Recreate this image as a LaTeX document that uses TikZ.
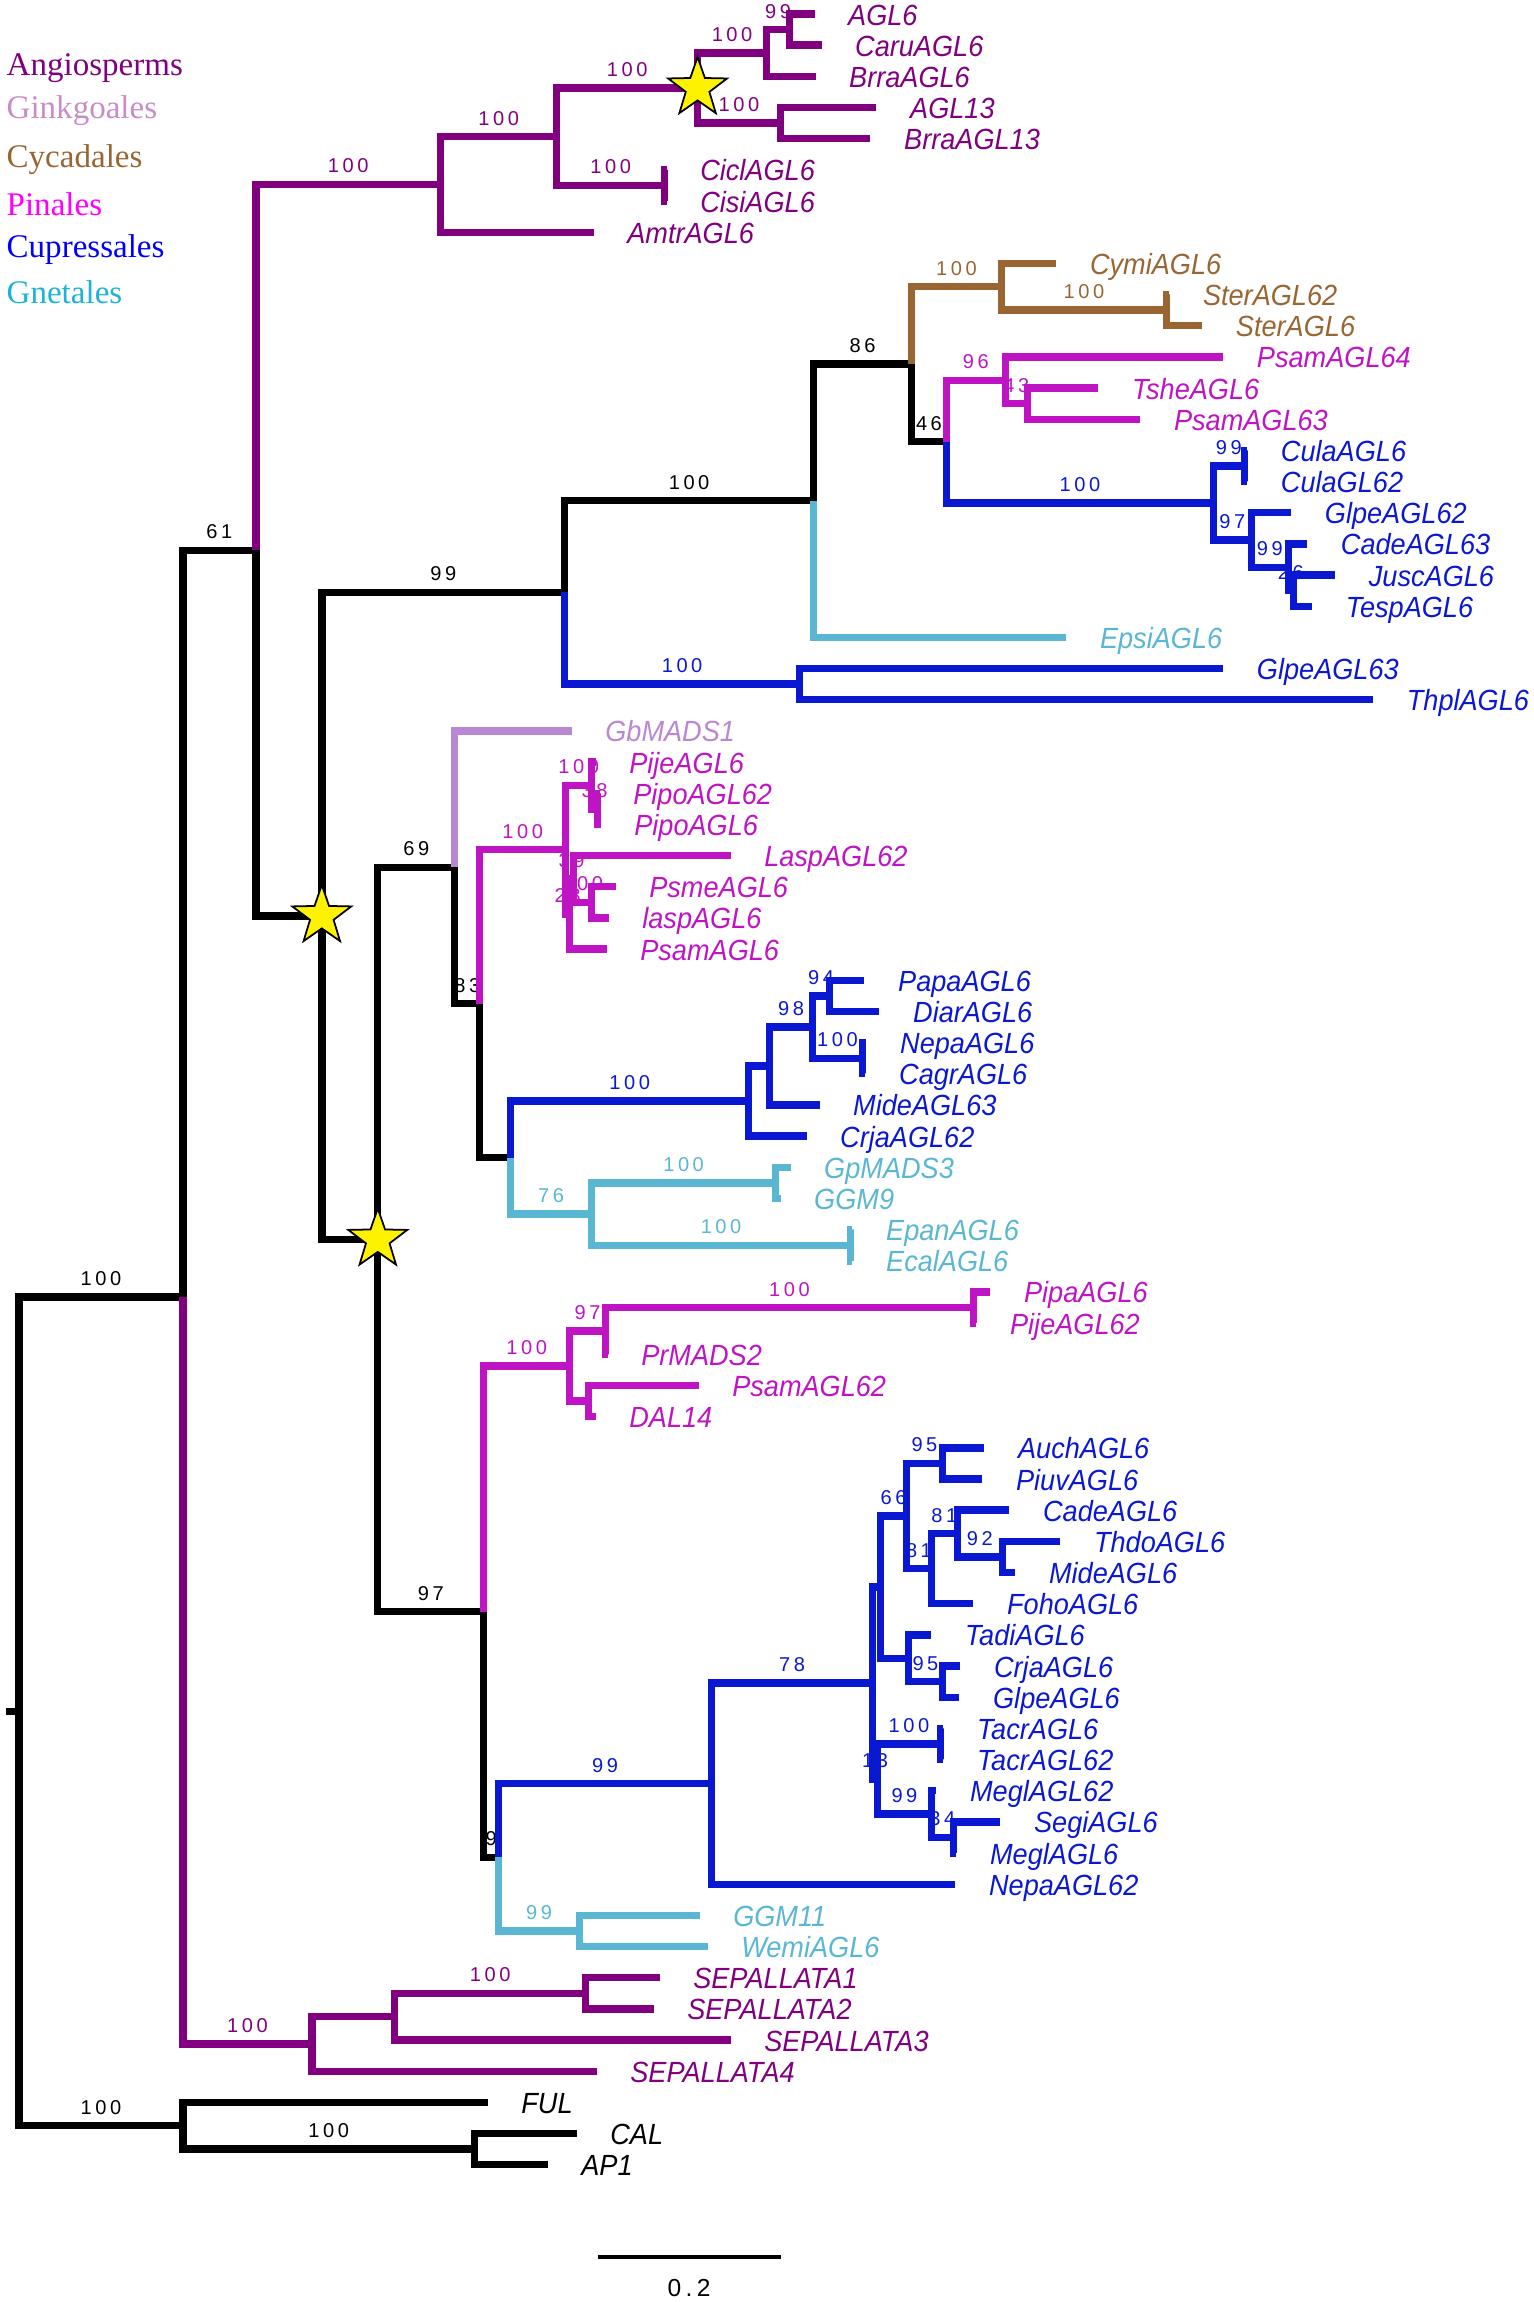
\documentclass[tikz,border=0pt]{standalone}
\usepackage{fontspec}
\setmainfont{Liberation Serif}
\newfontfamily\leaffont[FakeStretch=0.93]{Liberation Sans}
\newfontfamily\bsfont[LetterSpace=18]{Liberation Sans}
\usetikzlibrary{shapes.geometric}
\definecolor{angio}{HTML}{800080}
\definecolor{ginkgo}{HTML}{B987D4}
\definecolor{cycad}{HTML}{996633}
\definecolor{pinal}{HTML}{BE14C4}
\definecolor{cupre}{HTML}{0A18D2}
\definecolor{gnet}{HTML}{5AB7D4}
\definecolor{ginkleg}{HTML}{C98CC8}
\definecolor{pinleg}{HTML}{FF00FF}
\definecolor{cupleg}{HTML}{0000FF}
\definecolor{gnetleg}{HTML}{1DB3D6}
\begin{document}
\begin{tikzpicture}[x=0.01cm,y=-0.3117cm,line width=2.1pt,
  leaf/.style={anchor=base west,inner sep=0,xshift=3mm,yshift=-1.1mm,
    font=\leaffont\itshape\fontsize{8.3}{9}\selectfont},
  bs/.style={pos=.75,anchor=base,inner sep=0,yshift=1.15mm,behind path,
    font=\bsfont\fontsize{5.7}{6}\selectfont},
  lg/.style={anchor=base west,inner sep=0,font=\fontsize{9.4}{11}\selectfont},
  starmark/.style={star,star points=5,star point ratio=2.5,minimum size=6.2mm,
    inner sep=0,fill=yellow,draw=black,line width=.5pt},
  ]
\useasboundingbox (0,0.5508) rectangle (1534,74.404);

\node[lg,angio] (lg1) at (3,2.957) {Angiosperms};
\node[lg,ginkleg] (lg2) at (3,4.337) {Ginkgoales};
\node[lg,cycad] (lg3) at (3,5.909) {Cycadales};
\node[lg,pinleg] (lg4) at (3,7.449) {Pinales};
\node[lg,cupleg] (lg5) at (3,8.796) {Cupressales};
\node[lg,gnetleg] (lg6) at (3,10.272) {Gnetales};

\foreach \x/\k/\lab/\col in {
815/1/AGL6/angio, 822/2/CaruAGL6/angio, 816/3/BrraAGL6/angio, 877/4/AGL13/angio,
871/5/BrraAGL13/angio, 667/6/CiclAGL6/angio, 667/7/CisiAGL6/angio, 594/8/AmtrAGL6/angio,
1057/9/CymiAGL6/cycad, 1170/10/SterAGL62/cycad, 1203/11/SterAGL6/cycad,
1224/12/PsamAGL64/pinal, 1099/13/TsheAGL6/pinal, 1141/14/PsamAGL63/pinal,
1248/15/CulaAGL6/cupre, 1248/16/CulaGL62/cupre, 1292/17/GlpeAGL62/cupre,
1308/18/CadeAGL63/cupre, 1336/19/JuscAGL6/cupre, 1313/20/TespAGL6/cupre,
1067/21/EpsiAGL6/gnet, 1224/22/GlpeAGL63/cupre, 1374/23/ThplAGL6/cupre,
572/24/GbMADS1/ginkgo, 596/25/PijeAGL6/pinal, 600/26/PipoAGL62/pinal, 601/27/PipoAGL6/pinal,
731/28/LaspAGL62/pinal, 616/29/PsmeAGL6/pinal, 609/30/laspAGL6/pinal, 607/31/PsamAGL6/pinal,
865/32/PapaAGL6/cupre, 880/33/DiarAGL6/cupre, 867/34/NepaAGL6/cupre, 866/35/CagrAGL6/cupre,
820/36/MideAGL63/cupre, 807/37/CrjaAGL62/cupre,
791/38/GpMADS3/gnet, 781/39/GGM9/gnet, 853/40/EpanAGL6/gnet, 853/41/EcalAGL6/gnet,
991/42/PipaAGL6/pinal, 977/43/PijeAGL62/pinal, 608/44/PrMADS2/pinal, 699/45/PsamAGL62/pinal,
596/46/DAL14/pinal,
985/47/AuchAGL6/cupre, 983/48/PiuvAGL6/cupre, 1010/49/CadeAGL6/cupre, 1061/50/ThdoAGL6/cupre,
1016/51/MideAGL6/cupre, 974/52/FohoAGL6/cupre, 932/53/TadiAGL6/cupre, 961/54/CrjaAGL6/cupre,
960/55/GlpeAGL6/cupre, 944/56/TacrAGL6/cupre, 944/57/TacrAGL62/cupre, 937/58/MeglAGL62/cupre,
1001/59/SegiAGL6/cupre, 957/60/MeglAGL6/cupre, 956/61/NepaAGL62/cupre,
700/62/GGM11/gnet, 708/63/WemiAGL6/gnet,
660/64/SEPALLATA1/angio, 654/65/SEPALLATA2/angio, 731/66/SEPALLATA3/angio, 597/67/SEPALLATA4/angio,
488/68/FUL/black, 577/69/CAL/black, 548/70/AP1/black}
{\coordinate (l\k) at (\x,\k);
 \node[leaf,text=\col] (t\k) at (l\k) {\lab};}

\coordinate (stub) at (6,55.457);
\coordinate (root) at (19,55.457);
\coordinate (m) at (183,42.164);
\coordinate (og) at (183,68.75);
\coordinate (ca) at (475,69.5);
\coordinate (n61) at (256,18.203);
\coordinate (a1) at (441,6.469);
\coordinate (a2) at (557,4.9375);
\coordinate (a3) at (698,3.375);
\coordinate (a4) at (767,2.25);
\coordinate (a5) at (790,1.5);
\coordinate (a13) at (781,4.5);
\coordinate (ac) at (665,6.5);
\coordinate (s1) at (322,29.9375);
\coordinate (b99) at (565,19.559);
\coordinate (b100) at (814,16.617);
\coordinate (n86) at (912,12.234);
\coordinate (cyc) at (1002,9.75);
\coordinate (ster) at (1167,10.5);
\coordinate (n46) at (947,14.719);
\coordinate (p96) at (1006,12.75);
\coordinate (p43) at (1028,13.5);
\coordinate (c100) at (1214,16.6875);
\coordinate (cula) at (1245,15.5);
\coordinate (c97) at (1252,17.875);
\coordinate (c99) at (1289,18.75);
\coordinate (j26) at (1294,19.5);
\coordinate (thpl) at (800,22.5);
\coordinate (s2) at (378,40.316);
\coordinate (n69) at (455,28.375);
\coordinate (n83) at (480,32.75);
\coordinate (p1) at (566,27.8125);
\coordinate (pp) at (592,25.75);
\coordinate (p38) at (598,26.5);
\coordinate (q) at (570,29.875);
\coordinate (q3) at (574,28.75);
\coordinate (r) at (592,29.5);
\coordinate (nc) at (511,37.6875);
\coordinate (cu1) at (749,35.875);
\coordinate (cu2) at (770,34.75);
\coordinate (cu3) at (813,33.5);
\coordinate (n94) at (830,32.5);
\coordinate (nn) at (863,34.5);
\coordinate (g1) at (592,39.5);
\coordinate (gg) at (776,38.5);
\coordinate (ep) at (851,40.5);
\coordinate (n97) at (484,52.256);
\coordinate (p3) at (570,44.375);
\coordinate (p4) at (606,43.25);
\coordinate (pp2) at (974,42.5);
\coordinate (p5) at (589,45.5);
\coordinate (n9) at (499,60.137);
\coordinate (bl) at (712,57.773);
\coordinate (n78) at (873,54.547);
\coordinate (na) at (881,51.469);
\coordinate (n66) at (907,49.1875);
\coordinate (ap) at (943,47.5);
\coordinate (n81) at (932,50.875);
\coordinate (n81b) at (958,49.75);
\coordinate (n92) at (1003,50.5);
\coordinate (td) at (909,53.75);
\coordinate (n95) at (943,54.5);
\coordinate (nb) at (878,57.625);
\coordinate (tacr) at (941,56.5);
\coordinate (m99) at (932,58.75);
\coordinate (n34) at (954,59.5);
\coordinate (gw) at (580,62.5);
\coordinate (sep) at (312,66.125);
\coordinate (sep3) at (395,65.25);
\coordinate (sep12) at (586,64.5);

\draw (stub) -- (root);
\draw (root) |- node[bs]{100} (m);
\draw (root) |- node[bs]{100} (og);
\draw (m) |- node[bs]{61} (n61);
\draw[angio] (m) |- node[bs]{100} (sep);
\draw[angio] (n61) |- node[bs]{100} (a1);
\draw (n61) |- (s1);
\draw[angio] (a1) |- node[bs]{100} (a2);
\draw[angio] (a1) |- (l8);
\draw[angio] (a2) |- node[bs]{100} (a3);
\draw[angio] (a2) |- node[bs]{100} (ac);
\draw[angio] (a3) |- node[bs]{100} (a4);
\draw[angio] (a3) |- node[bs]{100} (a13);
\draw[angio] (a4) |- node[bs]{99} (a5);
\draw[angio] (a4) |- (l3);
\draw[angio] (a5) |- (l1) (a5) |- (l2);
\draw[angio] (a13) |- (l4) (a13) |- (l5);
\draw[angio] (ac) |- (l6) (ac) |- (l7);

\draw (s1) |- node[bs]{99} (b99);
\draw (s1) |- (s2);
\draw (b99) |- node[bs]{100} (b100);
\draw[cupre] (b99) |- node[bs]{100} (thpl);
\draw (b100) |- node[bs]{86} (n86);
\draw[gnet] (b100) |- (l21);
\draw[cycad] (n86) |- node[bs]{100} (cyc);
\draw (n86) |- node[bs]{46} (n46);
\draw[cycad] (cyc) |- (l9);
\draw[cycad] (cyc) |- node[bs]{100} (ster);
\draw[cycad] (ster) |- (l10) (ster) |- (l11);
\draw[pinal] (n46) |- node[bs]{96} (p96);
\draw[cupre] (n46) |- node[bs]{100} (c100);
\draw[pinal] (p96) |- (l12);
\draw[pinal] (p96) |- node[bs]{43} (p43);
\draw[pinal] (p43) |- (l13) (p43) |- (l14);
\draw[cupre] (c100) |- node[bs]{99} (cula);
\draw[cupre] (c100) |- node[bs]{97} (c97);
\draw[cupre] (cula) |- (l15) (cula) |- (l16);
\draw[cupre] (c97) |- (l17);
\draw[cupre] (c97) |- node[bs]{99} (c99);
\draw[cupre] (c99) |- (l18);
\draw[cupre] (c99) |- node[bs]{26} (j26);
\draw[cupre] (j26) |- (l19) (j26) |- (l20);
\draw[cupre] (thpl) |- (l22) (thpl) |- (l23);

\draw (s2) |- node[bs]{69} (n69);
\draw (s2) |- node[bs]{97} (n97);
\draw[ginkgo] (n69) |- (l24);
\draw (n69) |- node[bs]{83} (n83);
\draw[pinal] (n83) |- node[bs]{100} (p1);
\draw (n83) |- (nc);
\draw[pinal] (p1) |- node[bs]{100} (pp);
\draw[pinal] (p1) |- node[bs]{28} (q);
\draw[pinal] (pp) |- (l25);
\draw[pinal] (pp) |- node[bs]{38} (p38);
\draw[pinal] (p38) |- (l26) (p38) |- (l27);
\draw[pinal] (q) |- node[bs]{39} (q3);
\draw[pinal] (q) |- (l31);
\draw[pinal] (q3) |- (l28);
\draw[pinal] (q3) |- node[bs]{100} (r);
\draw[pinal] (r) |- (l29) (r) |- (l30);

\draw[cupre] (nc) |- node[bs]{100} (cu1);
\draw[gnet] (nc) |- node[bs]{76} (g1);
\draw[cupre] (cu1) |- (cu2);
\draw[cupre] (cu1) |- (l37);
\draw[cupre] (cu2) |- node[bs]{98} (cu3);
\draw[cupre] (cu2) |- (l36);
\draw[cupre] (cu3) |- node[bs]{94} (n94);
\draw[cupre] (cu3) |- node[bs]{100} (nn);
\draw[cupre] (n94) |- (l32) (n94) |- (l33);
\draw[cupre] (nn) |- (l34) (nn) |- (l35);
\draw[gnet] (g1) |- node[bs]{100} (gg);
\draw[gnet] (g1) |- node[bs]{100} (ep);
\draw[gnet] (gg) |- (l38) (gg) |- (l39);
\draw[gnet] (ep) |- (l40) (ep) |- (l41);

\draw[pinal] (n97) |- node[bs]{100} (p3);
\draw (n97) |- node[bs]{9} (n9);
\draw[pinal] (p3) |- node[bs]{97} (p4);
\draw[pinal] (p3) |- (p5);
\draw[pinal] (p4) |- node[bs]{100} (pp2);
\draw[pinal] (p4) |- (l44);
\draw[pinal] (pp2) |- (l42) (pp2) |- (l43);
\draw[pinal] (p5) |- (l45) (p5) |- (l46);
\draw[cupre] (n9) |- node[bs]{99} (bl);
\draw[gnet] (n9) |- node[bs]{99} (gw);
\draw[cupre] (bl) |- node[bs]{78} (n78);
\draw[cupre] (bl) |- (l61);
\draw[cupre] (n78) |- (na);
\draw[cupre] (n78) |- node[bs]{13} (nb);
\draw[cupre] (na) |- node[bs]{66} (n66);
\draw[cupre] (na) |- (td);
\draw[cupre] (n66) |- node[bs]{95} (ap);
\draw[cupre] (n66) |- node[bs]{81} (n81);
\draw[cupre] (ap) |- (l47) (ap) |- (l48);
\draw[cupre] (n81) |- node[bs]{81} (n81b);
\draw[cupre] (n81) |- (l52);
\draw[cupre] (n81b) |- (l49);
\draw[cupre] (n81b) |- node[bs]{92} (n92);
\draw[cupre] (n92) |- (l50) (n92) |- (l51);
\draw[cupre] (td) |- (l53);
\draw[cupre] (td) |- node[bs]{95} (n95);
\draw[cupre] (n95) |- (l54) (n95) |- (l55);
\draw[cupre] (nb) |- node[bs]{100} (tacr);
\draw[cupre] (nb) |- node[bs]{99} (m99);
\draw[cupre] (tacr) |- (l56) (tacr) |- (l57);
\draw[cupre] (m99) |- (l58);
\draw[cupre] (m99) |- node[bs]{34} (n34);
\draw[cupre] (n34) |- (l59) (n34) |- (l60);
\draw[gnet] (gw) |- (l62) (gw) |- (l63);

\draw[angio] (sep) |- (sep3);
\draw[angio] (sep) |- (l67);
\draw[angio] (sep3) |- node[bs]{100} (sep12);
\draw[angio] (sep3) |- (l66);
\draw[angio] (sep12) |- (l64) (sep12) |- (l65);
\draw (og) |- (l68);
\draw (og) |- node[bs]{100} (ca);
\draw (ca) |- (l69) (ca) |- (l70);

\node[starmark] (st1) at (a3) {};
\node[starmark] (st2) at (s1) {};
\node[starmark] (st3) at (s2) {};

\coordinate (sb1) at (598,72.96);
\coordinate (sb2) at (781,72.96);
\draw[line width=1.1pt] (sb1) -- (sb2);
\node[anchor=base,inner sep=0,font=\bsfont\fontsize{7}{8}\selectfont] (sbl) at (689.5,74.24) {0.2};
\end{tikzpicture}
\end{document}
